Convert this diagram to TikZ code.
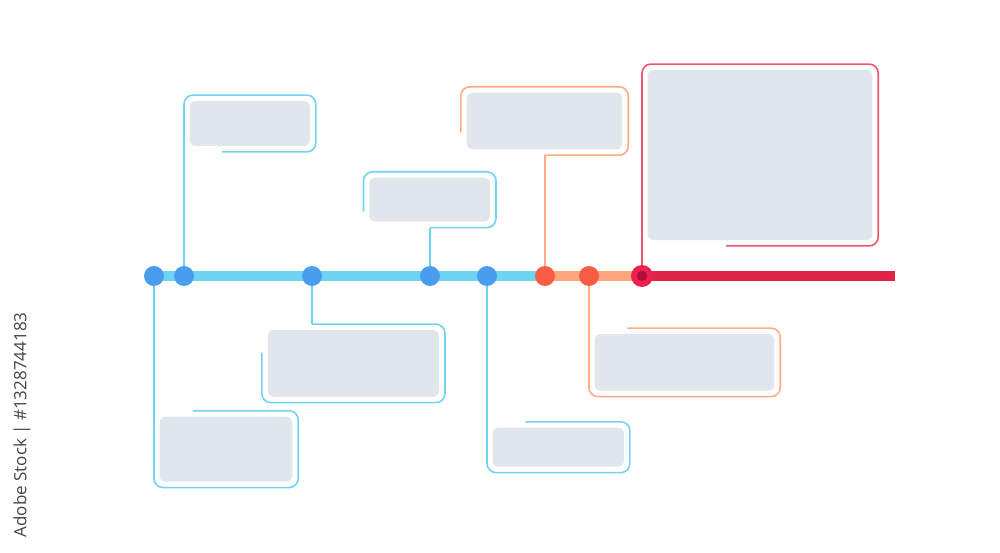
\documentclass[tikz,border=0pt]{standalone}
\usepackage{fontspec}
\setsansfont{Open Sans}
\usetikzlibrary{fit,calc}
\pgfdeclarelayer{background}
\pgfsetlayers{background,main}

\definecolor{lineblue}{HTML}{6DD5F3}
\definecolor{dotblue}{HTML}{4A9DEE}
\definecolor{wireblue}{HTML}{72D3F0}
\definecolor{lineorange}{HTML}{FFA67E}
\definecolor{dotorange}{HTML}{F85C44}
\definecolor{wireorange}{HTML}{FFAB85}
\definecolor{linered}{HTML}{E02248}
\definecolor{wirered}{HTML}{F1546F}
\definecolor{dotred}{HTML}{F0204D}
\definecolor{reddeep}{HTML}{B20F3A}
\definecolor{boxgray}{HTML}{E1E6ED}
\definecolor{stampgray}{HTML}{444444}

\tikzset{
  card/.style={fill=boxgray, rounded corners=6pt, inner sep=0pt},
  frame/.style={inner sep=5.5pt},
  dot/.style={circle, minimum size=20pt, inner sep=0pt},
  wire/.style={line width=1.6pt, rounded corners=9pt},
  axis/.style={line width=9.5pt},
}

\begin{document}
\begin{tikzpicture}[x=1pt,y=-1pt]
  \useasboundingbox (0,0) rectangle (1000,553);

  % timeline points
  \node [dot, fill=dotblue] (p1) at (154,276) {};
  \node [dot, fill=dotblue] (p2) at (184,276) {};
  \node [dot, fill=dotblue] (p3) at (312,276) {};
  \node [dot, fill=dotblue] (p4) at (430,276) {};
  \node [dot, fill=dotblue] (p5) at (487,276) {};
  \node [dot, fill=dotorange] (p6) at (545,276) {};
  \node [dot, fill=dotorange] (p7) at (589,276) {};
  \node [dot, fill=dotred, minimum size=22pt] (p8) at (642,276) {};
  \node [circle, fill=reddeep, minimum size=10.5pt, inner sep=0pt] (p8c) at (p8) {};
  \coordinate (tail) at (895,276);

  % cards
  \node [card, minimum width=120.5pt, minimum height=45pt] (bA) at (249.75,123.5) {};
  \node [card, minimum width=120.7pt, minimum height=44pt] (bB) at (429.7,199.7) {};
  \node [card, minimum width=155.6pt, minimum height=56.6pt] (bC) at (544.5,121) {};
  \node [card, minimum width=224.8pt, minimum height=170pt] (bD) at (759.9,155) {};
  \node [card, minimum width=132.8pt, minimum height=65pt] (bE) at (225.9,449.2) {};
  \node [card, minimum width=171.3pt, minimum height=66.7pt] (bF) at (353.4,363.4) {};
  \node [card, minimum width=131.5pt, minimum height=39pt] (bG) at (558.25,447.2) {};
  \node [card, minimum width=179.8pt, minimum height=56.7pt] (bH) at (684.4,362.4) {};

  \foreach \b in {A,B,C,D,E,F,G,H}
    \node [frame, fit=(b\b)] (f\b) {};

  \begin{pgfonlayer}{background}
    \draw [axis, lineblue] (p1.center) -- (p6.center);
    \draw [axis, lineorange] (p6.center) -- (p8.center);
    \draw [axis, linered, line width=10pt] (p8.center) -- (tail);

    % upper callouts
    \draw [wire, wireblue] (p2) -- (p2 |- fA.north) -- (fA.north east) -- (fA.south east) -- ($(fA.south west)+(38.5,0)$);
    \draw [wire, wireblue] (p4) -- (p4 |- fB.south);
    \draw [wire, wireblue] (p4 |- fB.south) -- (fB.south east) -- (fB.north east) -- (fB.north west) -- ($(fB.north west)+(0,39.5)$);
    \draw [wire, wireorange] (p6) -- (p6 |- fC.south);
    \draw [wire, wireorange] (p6 |- fC.south) -- (fC.south east) -- (fC.north east) -- (fC.north west) -- ($(fC.north west)+(0,45.8)$);
    \draw [wire, wirered] (p8) -- (p8 |- fD.north) -- (fD.north east) -- (fD.south east) -- ($(fD.south west)+(84.5,0)$);

    % lower callouts
    \draw [wire, wireblue] (p1) -- (p1 |- fE.south) -- (fE.south east) -- (fE.north east) -- ($(fE.north west)+(39,0)$);
    \draw [wire, wireblue] (p3) -- (p3 |- fF.north);
    \draw [wire, wireblue] (p3 |- fF.north) -- (fF.north east) -- (fF.south east) -- (fF.south west) -- ($(fF.north west)+(0,28.5)$);
    \draw [wire, wireblue] (p5) -- (p5 |- fG.south) -- (fG.south east) -- (fG.north east) -- ($(fG.north west)+(38.7,0)$);
    \draw [wire, wireorange] (p7) -- (p7 |- fH.south) -- (fH.south east) -- (fH.north east) -- ($(fH.north west)+(38.7,0)$);
  \end{pgfonlayer}

  \node [rotate=90, text=stampgray, font=\sffamily\fontsize{17}{20}\selectfont] (stamp) at (22,425) {Adobe Stock | \#1328744183};
\end{tikzpicture}
\end{document}
